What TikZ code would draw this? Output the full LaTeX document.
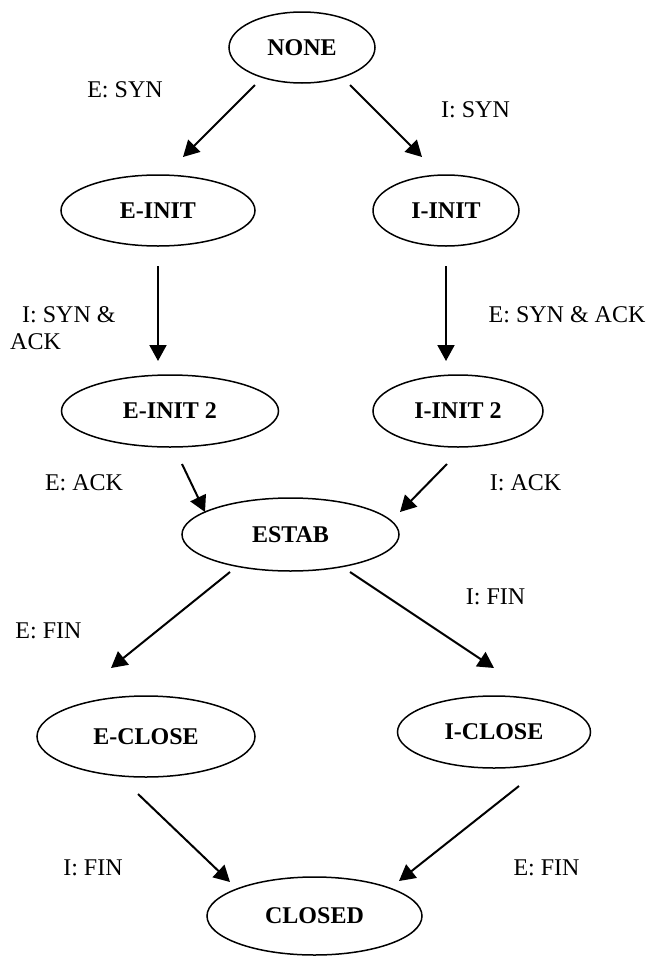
\documentclass[tikz,border=0pt]{standalone}
\usepackage{fontspec}
\setmainfont{Liberation Serif}
\usetikzlibrary{shapes.geometric,arrows.meta}
\begin{document}
\begin{tikzpicture}[x=1pt,y=-1pt,
  state/.style={ellipse,draw,line width=1.5pt,inner sep=0pt,font=\fontsize{24}{28}\selectfont\bfseries},
  lbl/.style={inner sep=0pt,font=\fontsize{24}{27}\selectfont},
  arr/.style={line width=2pt,-{Triangle[length=16pt,width=17pt]}}]
\useasboundingbox (0,0) rectangle (647,956);
% states
\node[state,minimum width=146pt,minimum height=71pt] (none)   at (302,47.5)  {NONE};
\node[state,minimum width=194pt,minimum height=71pt] (einit)  at (158,210.5) {E-INIT};
\node[state,minimum width=146pt,minimum height=71pt] (iinit)  at (446,210.5) {I-INIT};
\node[state,minimum width=217pt,minimum height=72pt] (einit2) at (170,411)   {E-INIT 2};
\node[state,minimum width=170pt,minimum height=72pt] (iinit2) at (458,411)   {I-INIT 2};
\node[state,minimum width=217pt,minimum height=73pt] (estab)  at (290.5,534.5) {ESTAB};
\node[state,minimum width=218pt,minimum height=81pt] (eclose) at (146,736.5) {E-CLOSE};
\node[state,minimum width=193pt,minimum height=72pt] (iclose) at (494,732)   {I-CLOSE};
\node[state,minimum width=215pt,minimum height=78pt] (closed) at (314.5,916) {CLOSED};
% labels
\node[lbl] (l1) at (125,90) {E: SYN};
\node[lbl] (l2) at (475.5,109.5) {I: SYN};
\node[lbl,align=left,anchor=north west] (l3) at (10,306) {\hspace*{12pt}I: SYN \&\\ACK};
\node[lbl] (l4) at (567,314.5) {E: SYN \& ACK};
\node[lbl] (l5) at (84,482.5) {E: ACK};
\node[lbl] (l6) at (525.5,482.5) {I: ACK};
\node[lbl] (l7) at (48.5,631) {E: FIN};
\node[lbl] (l8) at (495.5,597) {I: FIN};
\node[lbl] (l9) at (93,868) {I: FIN};
\node[lbl] (l10) at (546.5,868) {E: FIN};
% arrow end points
\coordinate (a1s) at (255,85);  \coordinate (a1e) at (183,157);
\coordinate (a2s) at (350,85);  \coordinate (a2e) at (422,157);
\coordinate (a3s) at (158,266); \coordinate (a3e) at (158,361);
\coordinate (a4s) at (446,266); \coordinate (a4e) at (446,361);
\coordinate (a5s) at (182,464); \coordinate (a5e) at (205,512);
\coordinate (a6s) at (447,464); \coordinate (a6e) at (400,512);
\coordinate (a7s) at (230,572); \coordinate (a7e) at (111,668);
\coordinate (a8s) at (350,572); \coordinate (a8e) at (494,668);
\coordinate (a9s) at (138,794); \coordinate (a9e) at (230,882);
\coordinate (a10s) at (519,786); \coordinate (a10e) at (399,881);
\draw[arr] (a1s) -- (a1e);
\draw[arr] (a2s) -- (a2e);
\draw[arr] (a3s) -- (a3e);
\draw[arr] (a4s) -- (a4e);
\draw[arr] (a5s) -- (a5e);
\draw[arr] (a6s) -- (a6e);
\draw[arr] (a7s) -- (a7e);
\draw[arr] (a8s) -- (a8e);
\draw[arr] (a9s) -- (a9e);
\draw[arr] (a10s) -- (a10e);
\end{tikzpicture}
\end{document}
